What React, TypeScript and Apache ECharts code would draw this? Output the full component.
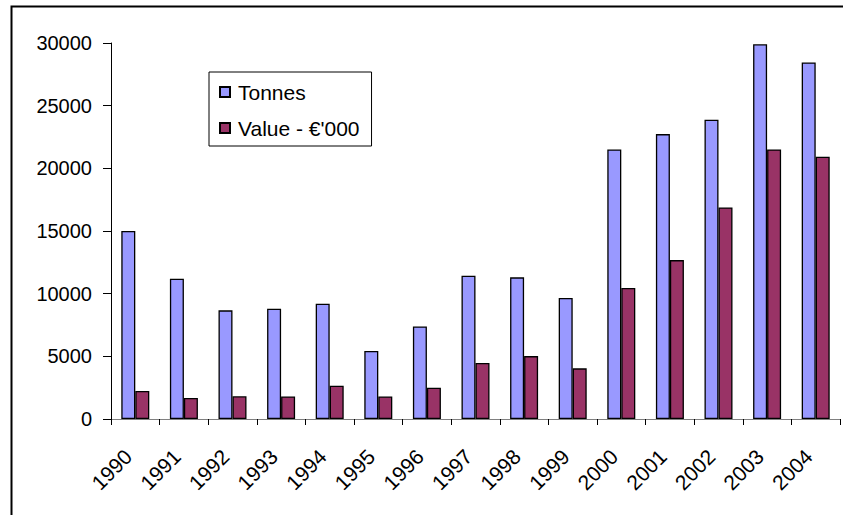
import React, { useEffect, useRef } from "react";
import * as echarts from "echarts";

const years = ["1990", "1991", "1992", "1993", "1994", "1995", "1996", "1997", "1998", "1999", "2000", "2001", "2002", "2003", "2004"];
const tonnes = [15000, 11200, 8670, 8800, 9200, 5420, 7390, 11430, 11300, 9650, 21510, 22730, 23880, 29900, 28450];
const valueK = [2230, 1680, 1810, 1800, 2660, 1800, 2500, 4470, 5020, 4040, 10450, 12680, 16880, 21510, 20930];
const seriesNames = ["Tonnes", "Value - €'000"];

const FONT = "'Liberation Sans', Arial, sans-serif";

export default function App() {
  const ref = useRef<HTMLDivElement>(null);
  useEffect(() => {
    if (!ref.current) return;
    const chart = echarts.init(ref.current, null, { renderer: "svg" });
    chart.setOption({
      animation: false,
      backgroundColor: "#fff",
      textStyle: { fontFamily: FONT },
      grid: { left: 111, right: 3, top: 43, bottom: 96, containLabel: false },
      legend: {
        orient: "vertical",
        left: 209,
        top: 72,
        padding: [9, 12, 7, 10],
        itemWidth: 10,
        itemHeight: 10,
        itemGap: 14,
        icon: "rect",
        borderColor: "#000",
        borderWidth: 1,
        backgroundColor: "#fff",
        textStyle: { fontFamily: FONT, fontSize: 21, color: "#000", lineHeight: 22, padding: [0, 0, 0, 3] },
        data: seriesNames,
      },
      xAxis: {
        type: "category",
        data: years,
        boundaryGap: true,
        axisLine: { lineStyle: { color: "#808080", width: 1 } },
        axisTick: { show: true, alignWithLabel: false, length: 6, lineStyle: { color: "#000" } },
        axisLabel: {
          rotate: 45,
          fontSize: 21,
          color: "#000",
          fontFamily: FONT,
          margin: 27,
          interval: 0,
          padding: [0, 10, 0, 0],
        },
        splitLine: { show: false },
      },
      yAxis: {
        type: "value",
        min: 0,
        max: 30000,
        interval: 5000,
        axisLine: { show: true, lineStyle: { color: "#000", width: 1 } },
        axisTick: { show: true, length: 8, inside: false, lineStyle: { color: "#000" } },
        axisLabel: { fontSize: 20, color: "#000", fontFamily: FONT, margin: 19, formatter: (v: number) => String(v) },
        splitLine: { show: false },
      },
      series: [
        {
          name: seriesNames[0],
          type: "bar",
          data: tonnes,
          barWidth: 14,
          barGap: "0%",
          itemStyle: { color: "#9999FF", borderColor: "#000", borderWidth: 1.3 },
        },
        {
          name: seriesNames[1],
          type: "bar",
          data: valueK,
          barWidth: 14,
          barGap: "0%",
          itemStyle: { color: "#993366", borderColor: "#000", borderWidth: 1.3 },
        },
      ],
      graphic: [
        {
          type: "rect",
          silent: true,
          shape: { x: 11.5, y: 6.5, width: 900, height: 600 },
          style: { fill: "none", stroke: "#000", lineWidth: 2 },
        },
      ],
    });
    return () => chart.dispose();
  }, []);
  return (
    <div
      ref={ref}
      style={{ position: "absolute", left: 0, top: 0, width: 843, height: 515 }}
    />
  );
}
